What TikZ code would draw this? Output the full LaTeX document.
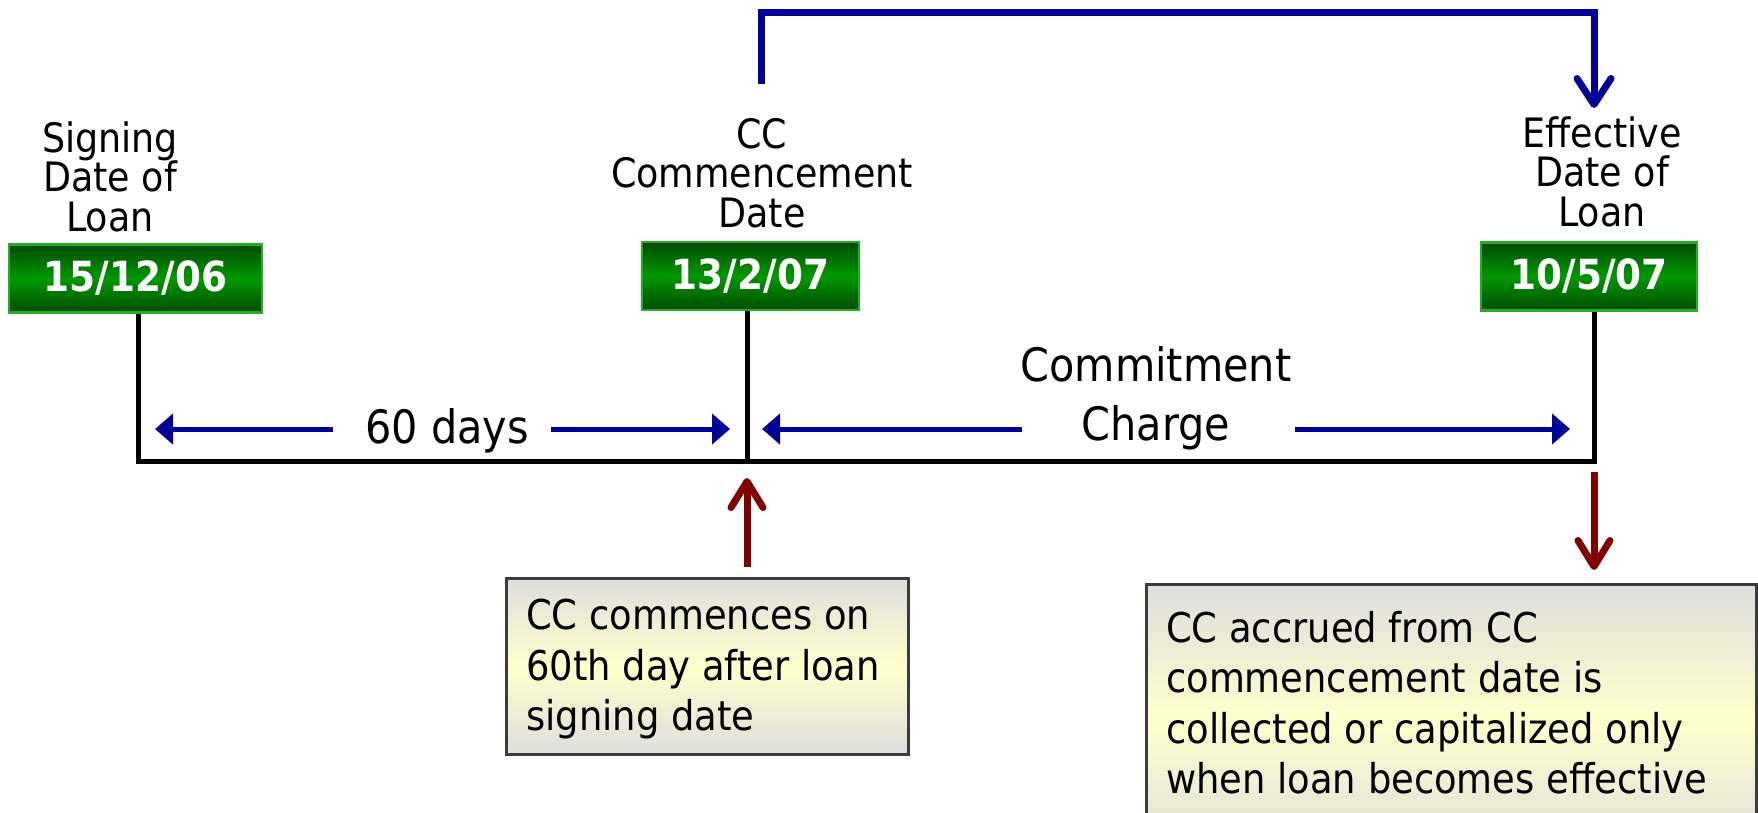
\documentclass[tikz,border=0pt]{standalone}
\usepackage{fontspec}
\setmainfont{DejaVu Sans Condensed}
\usetikzlibrary{arrows.meta,calc}
\definecolor{dblue}{RGB}{0,0,153}
\definecolor{dred}{RGB}{128,0,0}
\definecolor{gdark}{RGB}{0,75,0}
\definecolor{gmid}{RGB}{0,152,0}
\definecolor{gborder}{RGB}{40,172,40}
\definecolor{ngray}{RGB}{222,222,222}
\definecolor{nyellow}{RGB}{255,255,204}
\definecolor{nborder}{RGB}{60,60,60}
\begin{document}
\begin{tikzpicture}[x=1pt,y=-1pt,
  datebox/.style={draw=gborder, line width=2.5pt, top color=gdark, bottom color=gdark, middle color=gmid,
    text=white, font=\fontsize{41.5}{41.5}\selectfont\bfseries, minimum height=68pt, inner sep=0pt},
  toplabel/.style={align=center, inner sep=0pt, font=\fontsize{40.5}{39.5}\selectfont},
  bigtext/.style={align=center, inner sep=0pt, font=\fontsize{46}{59}\selectfont},
  notebox/.style={draw=nborder, line width=3pt, top color=ngray, bottom color=ngray, middle color=nyellow, inner sep=0pt},
  notetext/.style={align=left, inner sep=0pt, font=\fontsize{41}{50.5}\selectfont},
  tline/.style={line width=5pt, black, line join=miter},
  bluearr/.style={line width=5pt, dblue, -{Triangle[length=18pt,width=30pt]}},
  bluecon/.style={line width=7pt, dblue, -{Straight Barb[round,length=26pt,width=34pt]}},
  redarr/.style={line width=7pt, dred, -{Straight Barb[round,length=26pt,width=32pt]}}
]
\clip (0,0) rectangle (1758,812);
\fill[white] (0,0) rectangle (1758,812);

% timeline points
\coordinate (t1) at (138,461);
\coordinate (t2) at (747,461);
\coordinate (t3) at (1594,461);

% date boxes
\node[datebox, minimum width=253pt] (d1) at (135.5,278.5) {15/12/06};
\node[datebox, minimum width=217pt] (d2) at (750.5,276) {13/2/07};
\node[datebox, minimum width=216pt] (d3) at (1589,276.5) {10/5/07};

% timeline
\draw[tline] (d1.south -| t1) -- (t1) -- (t3) -- (d3.south -| t3);
\draw[tline] (d2.south -| t2) -- (t2);

% labels
\node[toplabel, anchor=south] (l1) at (110,232) {Signing\\Date of\\Loan};
\node[toplabel, anchor=south] (l2) at (762,228) {CC\\Commencement\\Date};
\node[toplabel, anchor=south] (l3) at (1602,227) {Effective\\Date of\\Loan};

% top connector
\coordinate (bs) at (761,84);
\coordinate (be) at (1594,108);
\draw[bluecon, line join=miter] (bs) -- ++(0,-72) -| (be);

% interval texts
\node[bigtext, anchor=base] (days) at (447,443) {60 days};
\node[bigtext, anchor=north] (cc) at (1156,346) {Commitment\\Charge};

% interval arrows
\coordinate (a1s) at (333,429); \coordinate (a1e) at (155,429);
\coordinate (a2s) at (551,429); \coordinate (a2e) at (730,429);
\coordinate (a3s) at (1022,429); \coordinate (a3e) at (762,429);
\coordinate (a4s) at (1295,429); \coordinate (a4e) at (1570,429);
\draw[bluearr] (a1s) -- (a1e);
\draw[bluearr] (a2s) -- (a2e);
\draw[bluearr] (a3s) -- (a3e);
\draw[bluearr] (a4s) -- (a4e);

% note boxes
\node[notebox, anchor=north west, minimum width=402pt, minimum height=176pt] (n1) at (505,577) {};
\node[notetext, anchor=north west] (n1t) at (526,599) {CC commences on\\60th day after loan\\signing date};
\node[notebox, anchor=north west, minimum width=610pt, minimum height=270pt] (n2) at (1145,583) {};
\node[notetext, anchor=north west] (n2t) at (1166,611) {CC accrued from CC\\commencement date is\\collected or capitalized only\\when loan becomes effective};

% red arrows
\coordinate (r1s) at (747,567); \coordinate (r1e) at (747,478);
\coordinate (r2s) at (1594,472); \coordinate (r2e) at (1594,570);
\draw[redarr] (r1s) -- (r1e);
\draw[redarr] (r2s) -- (r2e);
\end{tikzpicture}
\end{document}
